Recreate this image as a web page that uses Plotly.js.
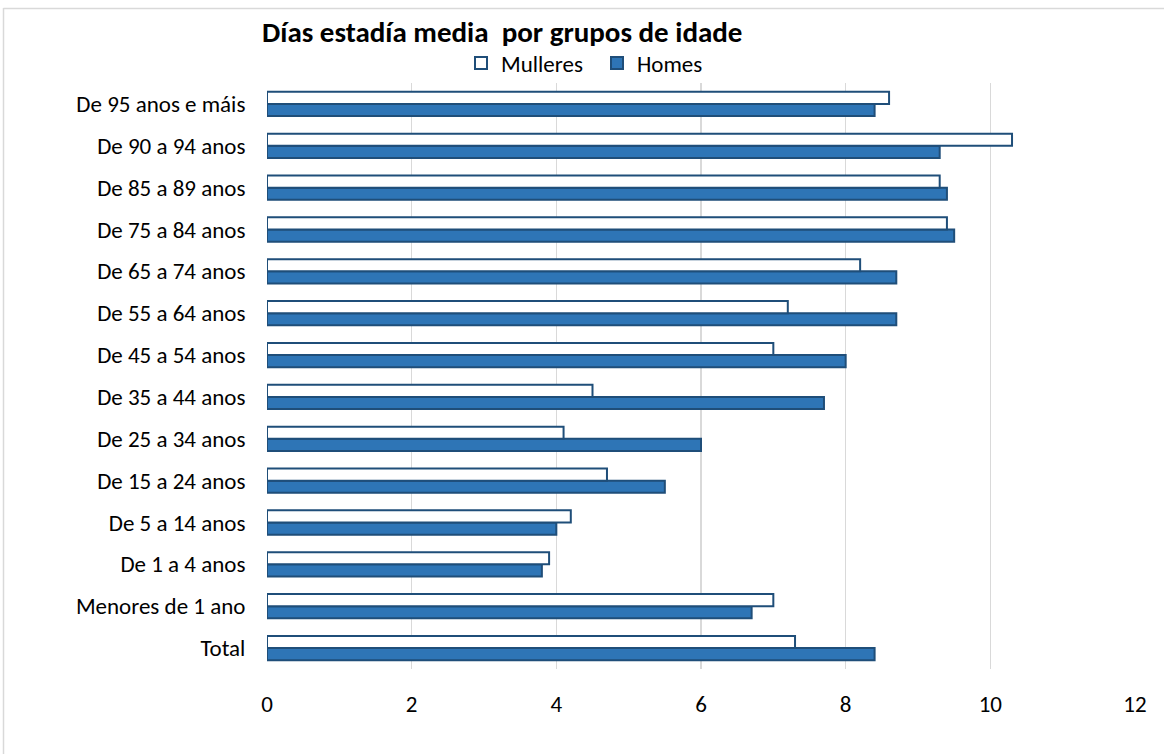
<!DOCTYPE html>
<html><head><meta charset="utf-8">
<script src="https://cdn.plot.ly/plotly-3.0.1.min.js"></script>
<style>html,body{margin:0;padding:0;background:#fff}#chart{width:1164px;height:754px}</style>
</head><body><div id="chart"></div>
<script>
const categories = ["Total","Menores de 1 ano","De 1 a 4 anos","De 5 a 14 anos","De 15 a 24 anos","De 25 a 34 anos","De 35 a 44 anos","De 45 a 54 anos","De 55 a 64 anos","De 65 a 74 anos","De 75 a 84 anos","De 85 a 89 anos","De 90 a 94 anos","De 95 anos e máis"];
const mulleres = [7.3,7.0,3.9,4.2,4.7,4.1,4.5,7.0,7.2,8.2,9.4,9.3,10.3,8.6];
const homes = [8.4,6.7,3.8,4.0,5.5,6.0,7.7,8.0,8.7,8.7,9.5,9.4,9.3,8.4];
const xTicks = [0,2,4,6,8,10,12];

const FONT = "Carlito, Calibri, Lato, sans-serif";
const L=267, R=1135, T=83, B=669, W=1164, H=754;
const pw=R-L, ph=B-T;
const px = v => (v-L)/pw, py = v => (B-v)/ph;

const traces = [
 {type:'bar',orientation:'h',name:'Homes',y:categories,x:homes,legendrank:2,
  marker:{color:'#2E75B6',line:{color:'#1F4E79',width:2}},hoverinfo:'x+y'},
 {type:'bar',orientation:'h',name:'Mulleres',y:categories,x:mulleres,legendrank:1,
  marker:{color:'#FFFFFF',line:{color:'#1F4E79',width:2}},hoverinfo:'x+y'}
];
const layout = {
 width:W,height:H,margin:{l:L,r:W-R,t:T,b:H-B},
 paper_bgcolor:'#fff',plot_bgcolor:'#fff',
 font:{family:FONT,size:23,color:'#000'},
 barmode:'group',bargap:0.42,bargroupgap:0,
 title:{text:'<b>Días estadía media  por grupos de idade</b>',font:{family:FONT,size:29,color:'#000'},
   x:262/W,xanchor:'left',xref:'container',y:1-32/H,yref:'container',yanchor:'middle'},
 legend:{orientation:'h',x:px(461),xanchor:'left',y:py(63),yanchor:'middle',
   font:{family:FONT,size:23},bgcolor:'rgba(0,0,0,0)',itemwidth:30,tracegroupgap:0,
   entrywidth:91,entrywidthmode:'pixels'},
 xaxis:{range:[0,12],tickvals:xTicks,ticktext:xTicks.map(String),showgrid:true,gridcolor:'#D9D9D9',gridwidth:1.5,
   zeroline:false,showline:false,ticks:'outside',ticklen:14,tickcolor:'rgba(0,0,0,0)',
   tickfont:{family:FONT,size:23},fixedrange:true},
 yaxis:{type:'category',categoryorder:'array',categoryarray:categories,showgrid:false,zeroline:false,showline:false,
   ticks:'outside',ticklen:16,tickcolor:'rgba(0,0,0,0)',tickfont:{family:FONT,size:23},fixedrange:true},
 shapes:[
  {type:'line',xref:'paper',yref:'paper',x0:px(3.5),x1:px(1164),y0:py(8.5),y1:py(8.5),line:{color:'#D9D9D9',width:1.5},layer:'below'},
  {type:'line',xref:'paper',yref:'paper',x0:px(3.5),x1:px(3.5),y0:py(8),y1:py(754),line:{color:'#D9D9D9',width:1.5},layer:'below'}
 ]
};
Plotly.newPlot('chart',traces,layout,{displayModeBar:false,staticPlot:true});
</script></body></html>
